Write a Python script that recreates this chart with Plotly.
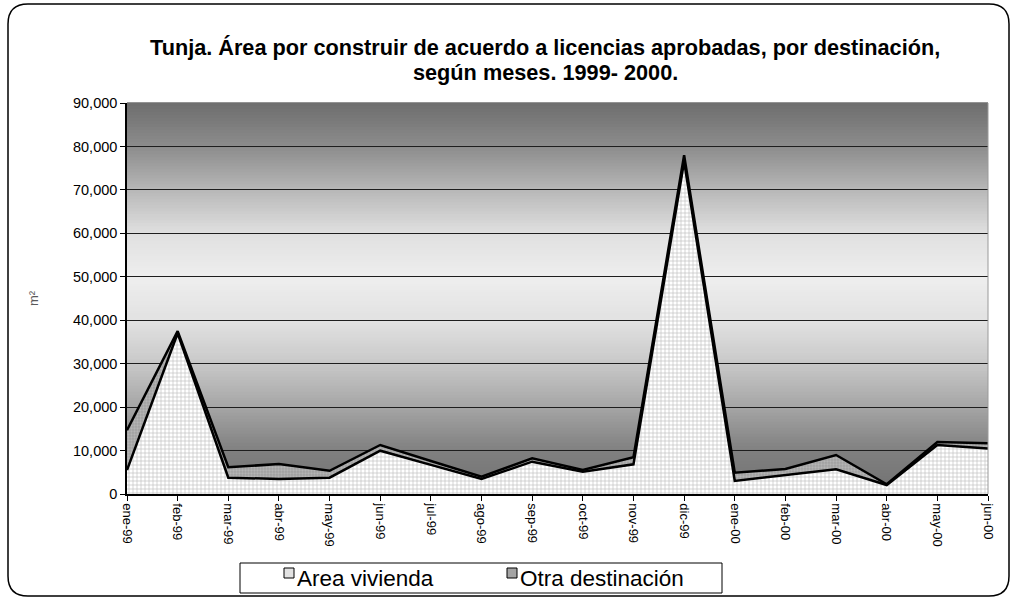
import plotly.graph_objects as go

months = ["ene-99", "feb-99", "mar-99", "abr-99", "may-99", "jun-99", "jul-99", "ago-99", "sep-99",
          "oct-99", "nov-99", "dic-99", "ene-00", "feb-00", "mar-00", "abr-00", "may-00", "jun-00"]
area_vivienda = [5500, 37000, 3750, 3450, 3750, 9970, 6700, 3450, 7440,
                 5130, 6830, 76500, 3000, 4370, 5680, 2070, 11280, 10500]
otra_destinacion = [9200, 500, 2400, 3450, 1600, 1310, 900, 550, 760,
                    390, 1610, 1500, 1900, 1380, 3290, 160, 680, 1160]
series_names = ["Area vivienda", "Otra destinación"]
y_ticks = [0, 10000, 20000, 30000, 40000, 50000, 60000, 70000, 80000, 90000]
title_lines = ["Tunja. Área por construir de acuerdo a licencias aprobadas, por destinación,",
               "según meses. 1999- 2000."]

W, H = 1014, 599
L, R, T, B = 127, 988, 103, 494


def px(x):
    return (x - L) / (R - L)


def py(y):
    return (B - y) / (B - T)


viv_pattern = dict(shape="+", fgcolor="#808080", bgcolor="white", size=4, solidity=0.3)
otra_pattern = dict(shape=".", fgcolor="#cacaca", bgcolor="#a0a0a0", size=3, solidity=0.45)

fig = go.Figure()
fig.add_trace(go.Scatter(
    x=months, y=area_vivienda, name=series_names[0], stackgroup="s", mode="lines",
    line=dict(color="black", width=2.5), fillcolor="white", fillpattern=viv_pattern,
    showlegend=False,
))
fig.add_trace(go.Scatter(
    x=months, y=otra_destinacion, name=series_names[1], stackgroup="s", mode="lines",
    line=dict(color="black", width=2.5), fillcolor="#a8a8a8", fillpattern=otra_pattern,
    showlegend=False,
))

# background gradient stripes
stops = [(0.0, 0x72), (0.111, 0x80), (0.222, 0xa5), (0.333, 0xc8), (0.444, 0xe2),
         (0.555, 0xee), (0.666, 0xe0), (0.777, 0xb8), (0.888, 0x8c), (1.0, 0x6e)]


def shade(f):
    for (f0, c0), (f1, c1) in zip(stops[:-1], stops[1:]):
        if f0 <= f <= f1:
            return int(round(c0 + (c1 - c0) * (f - f0) / (f1 - f0)))
    return stops[-1][1]


shapes = []
n = 130
for i in range(n):
    f0, f1 = i / n, (i + 1) / n
    c = shade((f0 + f1) / 2)
    shapes.append(dict(type="rect", xref="paper", yref="paper", x0=0, x1=1, y0=f0, y1=f1 + 0.002,
                       fillcolor=f"rgb({c},{c},{c})", line=dict(width=0), layer="below"))
# right plot border
shapes.append(dict(type="line", xref="paper", yref="paper", x0=1, x1=1, y0=0, y1=1,
                   line=dict(color="#9a9a9a", width=1)))

# outer rounded border
x0, y0, x1, y1, r = 8, 4, 1009, 596, 20
path = (f"M {px(x0 + r)} {py(y0)} L {px(x1 - r)} {py(y0)} Q {px(x1)} {py(y0)} {px(x1)} {py(y0 + r)} "
        f"L {px(x1)} {py(y1 - r)} Q {px(x1)} {py(y1)} {px(x1 - r)} {py(y1)} "
        f"L {px(x0 + r)} {py(y1)} Q {px(x0)} {py(y1)} {px(x0)} {py(y1 - r)} "
        f"L {px(x0)} {py(y0 + r)} Q {px(x0)} {py(y0)} {px(x0 + r)} {py(y0)} Z")
shapes.append(dict(type="path", xref="paper", yref="paper", path=path,
                   line=dict(color="black", width=1.5), layer="above"))

# legend box (drawn to match the original's compact legend)
shapes.append(dict(type="rect", xref="paper", yref="paper", x0=px(240), x1=px(722), y0=py(563), y1=py(593),
                   fillcolor="white", line=dict(color="black", width=1), layer="above"))
legend_items = [(284, "#e2e2e2"), (507, "#a4a4a4")]
for (ix, col) in legend_items:
    shapes.append(dict(type="rect", xref="paper", yref="paper", x0=px(ix), x1=px(ix + 10),
                       y0=py(568), y1=py(578), fillcolor=col,
                       line=dict(color="black", width=1), layer="above"))

annotations = [
    dict(text=f"<b>{title_lines[0]}</b>", xref="paper", yref="paper", x=px(545), y=py(48),
         xanchor="center", yanchor="middle", showarrow=False, font=dict(size=21.7)),
    dict(text=f"<b>{title_lines[1]}</b>", xref="paper", yref="paper", x=px(545), y=py(72),
         xanchor="center", yanchor="middle", showarrow=False, font=dict(size=21.7)),
    dict(text="m²", xref="paper", yref="paper", x=px(33), y=py(298), textangle=-90,
         xanchor="center", yanchor="middle",
         showarrow=False, font=dict(size=13, color="#5a5a5a")),
]
for (ix, _), name in zip(legend_items, series_names):
    annotations.append(dict(text=name, xref="paper", yref="paper", x=px(ix + 11), y=py(578),
                            xanchor="left", yanchor="middle", showarrow=False,
                            font=dict(size=22.5)))

fig.update_layout(
    width=W, height=H,
    margin=dict(l=L, r=W - R, t=T, b=H - B, autoexpand=False),
    paper_bgcolor="white", plot_bgcolor="white",
    font=dict(family="Liberation Sans, Arial, sans-serif", color="black"),
    shapes=shapes,
    annotations=annotations,
    showlegend=False,
)
fig.update_xaxes(
    type="category", range=[0, len(months) - 1], showgrid=False,
    showline=True, linecolor="black", linewidth=1.5,
    ticks="outside", ticklen=5, tickcolor="black", tickangle=90,
    tickfont=dict(size=13), zeroline=False,
)
fig.update_yaxes(
    range=[0, 90000], tickvals=y_ticks, tickformat=",",
    showgrid=True, gridcolor="#1e1e1e", gridwidth=1,
    showline=True, linecolor="black", linewidth=1.5,
    ticks="outside", ticklen=5, tickcolor="black", tickfont=dict(size=14.5),
    zeroline=False,
)

fig.write_html("out.html", config={"displayModeBar": False},
               post_script="document.body.style.margin='0px';")
